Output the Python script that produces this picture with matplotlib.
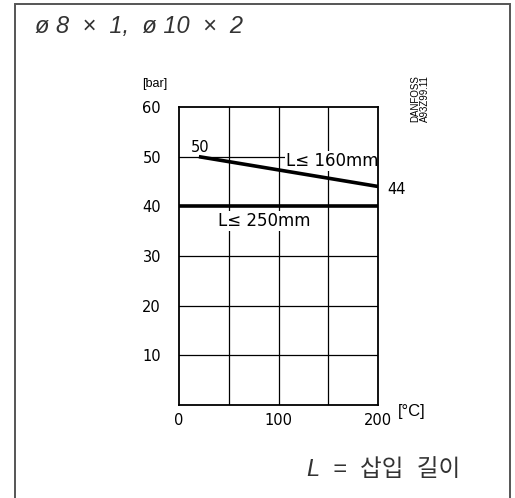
import matplotlib
matplotlib.use("Agg")
import matplotlib.pyplot as plt
from matplotlib.patches import Rectangle

# data
temp_160 = [20, 200]      # degC
bar_160 = [50, 44]
temp_250 = [0, 200]
bar_250 = [40, 40]
x_ticks = [0, 100, 200]
y_ticks = [10, 20, 30, 40, 50, 60]

W, H = 515, 498
fig = plt.figure(figsize=(W / 100, H / 100), dpi=100)

# outer frame of the data sheet
fig.add_artist(Rectangle((15 / W, -0.02), 495 / W, 1.02 - 4 / H,
                         transform=fig.transFigure, fill=False,
                         edgecolor="#555555", linewidth=1.4))

ax = fig.add_axes([179 / W, 93 / H, 199 / W, 298 / H])
ax.set_xlim(0, 200)
ax.set_ylim(0, 60)

# grid
for gx in [50, 100, 150]:
    ax.axvline(gx, color="black", linewidth=0.9, zorder=1)
for gy in [10, 20, 30, 50]:
    ax.axhline(gy, color="black", linewidth=0.9, zorder=1)

ax.plot(temp_160, bar_160, color="black", linewidth=2.6, solid_capstyle="butt", zorder=3)
ax.plot(temp_250, bar_250, color="black", linewidth=2.6, solid_capstyle="butt", zorder=3)

for s in ax.spines.values():
    s.set_linewidth(1.3)

ax.set_xticks(x_ticks)
ax.set_yticks(y_ticks)
ax.tick_params(length=0, labelsize=10.5, pad=6)
ax.tick_params(axis="y", pad=13)

txt = dict(fontsize=10.5, color="black")
ax.text(temp_160[0] + 1, bar_160[0] + 0.4, "50", ha="center", va="bottom", zorder=4, **txt)
ax.text(temp_160[1] + 9, bar_160[1] - 0.6, "44", ha="left", va="center", zorder=4, **txt)
ax.text(108, 49.1, "L\u2264 160mm", ha="left", va="center", zorder=2, fontsize=12,
        bbox=dict(facecolor="white", edgecolor="none", pad=0.8))
ax.text(39, 37.1, "L\u2264 250mm", ha="left", va="center", zorder=2, fontsize=12,
        bbox=dict(facecolor="white", edgecolor="none", pad=0.8))

fig.text(142 / W, 1 - 84 / H, "[bar]", fontsize=9, family="Liberation Sans", va="center")
fig.text(398 / W, 1 - 411 / H, "[\u00b0C]", fontsize=12, family="Liberation Sans", va="center")

fig.text(420 / W, 1 - 122 / H, "DANFOSS\nA93Z99.11", rotation=90, fontsize=7,
         family="Liberation Sans", ha="center", va="bottom", linespacing=1.0)

fig.text(35 / W, 1 - 27 / H, "\u00f8 8  \u00d7  1,  \u00f8 10  \u00d7  2", fontsize=17,
         family="Liberation Sans", style="italic", va="center", color="#333333")
fig.text(307 / W, 1 - 469 / H, "L  =  삽입  길이", fontsize=17,
         family=["Liberation Sans", "Noto Sans CJK KR"], style="italic",
         va="center", color="#333333")

fig.savefig("out.png", dpi=100)
